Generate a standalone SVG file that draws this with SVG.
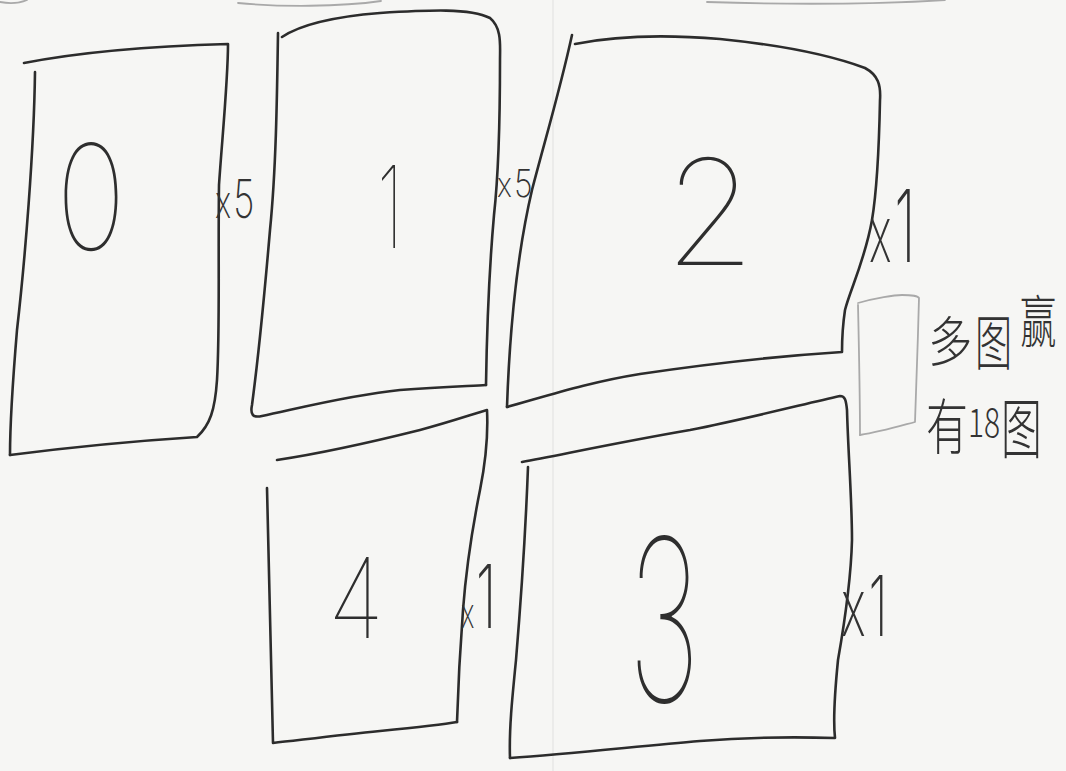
<svg xmlns="http://www.w3.org/2000/svg" width="1066" height="771" viewBox="0 0 1066 771">
  <style>
    .ink { fill: none; stroke: #2c2c2c; stroke-width: 2.6; stroke-linecap: round; stroke-linejoin: round; }
    .faint { fill: none; stroke: #a9a9a9; stroke-width: 1.8; stroke-linecap: round; stroke-linejoin: round; }
    .fold { fill: none; stroke: #e4e4e2; stroke-width: 1.2; }
    .hand { font-family: Inter, "Noto Sans", "Liberation Sans", sans-serif; font-weight: 100; fill: #2e2e2e; }
    .tag { font-family: Inter, "Noto Sans", "Liberation Sans", sans-serif; font-weight: 200; fill: #333333; }
    .note { font-family: "Noto Sans CJK SC", "Noto Sans", sans-serif; font-weight: 300; fill: #333333; }
  </style>
  <rect x="0" y="0" width="1066" height="771" fill="#f6f6f4"/>
  <g id="paper-marks">
    <path class="fold" d="M553,0 L553,771"/>
    <path class="faint" d="M0,2 C10,4 20,3 27,0"/>
    <path class="faint" d="M238,3 C280,7 340,7 381,1"/>
    <path class="faint" d="M707,2 C800,5 880,4 945,0"/>
  </g>

  <g id="box0">
    <path class="ink" d="M24,63 C60,56 120,47 228,44 C228,80 222,140 219,185 C218,260 220,330 217,380 C215,410 210,425 197,437 C150,440 80,446 10,455"/>
    <path class="ink" d="M35,72 C34,150 25,260 17,330 C12,390 10,420 10,455"/>
    <text class="hand" x="56" y="250" font-size="146" textLength="70" lengthAdjust="spacingAndGlyphs">0</text>
    <text class="tag" transform="translate(215,218) scale(0.68,1)"><tspan x="0" font-size="46">x</tspan><tspan x="27" font-size="54">5</tspan></text>
  </g>

  <g id="box1">
    <path class="ink" d="M282,37 C300,25 330,17 380,13 C430,10 470,8 490,18 C502,28 500,45 500,60 C500,120 499,170 494,215 C490,260 487,320 486,385"/>
    <path class="ink" d="M278,33 C277,100 276,170 270,230 C264,300 258,360 252,405 C250,415 253,418 262,416 C300,408 350,395 400,390 C440,387 470,386 486,385"/>
    <text class="hand" x="377" y="248" font-size="114" textLength="26" lengthAdjust="spacingAndGlyphs">1</text>
    <text class="tag" transform="translate(497,197) scale(0.85,1)"><tspan x="0" font-size="34">x</tspan><tspan x="20" font-size="38">5</tspan></text>
  </g>

  <g id="box2">
    <path class="ink" d="M575,44 C610,37 660,34 720,39 C780,45 830,55 865,68 C878,75 881,85 880,100 C879,150 877,190 872,220 C865,260 850,290 845,310 C842,330 842,345 842,352 C780,356 700,365 640,374 C590,382 550,395 507,407"/>
    <path class="ink" d="M572,35 C560,90 545,140 532,190 C518,250 510,320 507,407"/>
    <text class="hand" x="710" y="265" font-size="147" text-anchor="middle">2</text>
    <text class="tag" transform="translate(869,262) scale(0.56,1)"><tspan x="0" font-size="78">x</tspan><tspan x="45" font-size="100">1</tspan></text>
  </g>

  <g id="box3">
    <path class="ink" d="M522,462 C560,455 620,442 690,430 C750,418 800,405 840,396 C845,396 846,400 847,410 C848,450 852,500 852,540 C851,580 845,620 838,660 C834,700 833,720 835,738 C800,737 750,737 700,741 C640,746 570,754 510,758"/>
    <path class="ink" d="M528,467 C526,520 521,600 516,660 C512,700 509,730 510,758"/>
    <text class="hand" x="628" y="702" font-size="227" textLength="72" lengthAdjust="spacingAndGlyphs">3</text>
    <text class="tag" transform="translate(841,636) scale(0.6,1)"><tspan x="0" font-size="80">x</tspan><tspan x="46" font-size="84">1</tspan></text>
  </g>

  <g id="box4">
    <path class="ink" d="M277,460 C330,452 380,440 420,430 C450,422 470,415 487,410 C488,430 486,460 480,490 C472,530 466,570 463,610 C460,650 458,690 457,722"/>
    <path class="ink" d="M267,488 C269,560 271,650 273,743 C300,740 340,735 380,731 C410,728 440,725 457,722"/>
    <text class="hand" x="328" y="638" font-size="111" textLength="56" lengthAdjust="spacingAndGlyphs">4</text>
    <text class="tag" transform="translate(461,628) scale(0.62,1)"><tspan x="0" font-size="42">x</tspan><tspan x="24" font-size="88">1</tspan></text>
  </g>

  <g id="small-frame">
    <path class="faint" d="M858,303 C875,298 895,295 902,295 C910,295 918,296 919,298 C918,340 916,390 915,422 C900,426 880,432 860,435"/>
    <path class="faint" d="M858,305 C859,350 860,400 860,435"/>
  </g>

  <g id="note">
    <text class="note" transform="translate(928,362) scale(0.82,1)" font-size="54">多</text>
    <text class="note" transform="translate(975,365) scale(0.62,1)" font-size="60">图</text>
    <text class="note" transform="translate(1020,342) scale(0.65,1)" font-size="56">赢</text>
    <text class="note" transform="translate(926,449) scale(0.7,1)" font-size="60">有</text>
    <text class="note" transform="translate(968,437) scale(0.75,1)" font-size="40">18</text>
    <text class="note" transform="translate(1001,453) scale(0.62,1)" font-size="66">图</text>
  </g>
</svg>
